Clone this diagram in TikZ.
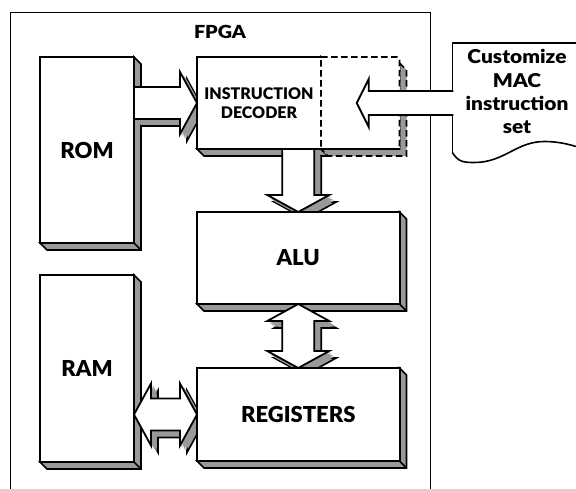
\documentclass[tikz,border=0pt]{standalone}
\usepackage{fontspec}
\newfontfamily\heavy{Lato Black}
\newfontfamily\heavywide{Lato Black}[FakeStretch=1.1]
\usetikzlibrary{calc}
\definecolor{shade}{gray}{0.6}
\pgfdeclarelayer{back}
\pgfdeclarelayer{front}
\pgfsetlayers{back,main,front}

\tikzset{
  block/.style={draw, line width=2pt, fill=white, anchor=north west,
    inner sep=0, outer sep=0, align=center,
    font=\heavy\fontsize{22}{24}\selectfont},
  depthface/.style={fill=shade, draw, line width=1.6pt, line join=miter},
  fat/.style={fill=white, draw, line width=1.8pt, line join=miter,
    preaction={fill=shade, draw, line width=1.6pt, transform canvas={shift={(7pt,-7pt)}}},
    preaction={fill=shade, transform canvas={shift={(5.5pt,-5.5pt)}}},
    preaction={fill=shade, transform canvas={shift={(4pt,-4pt)}}},
    preaction={fill=shade, transform canvas={shift={(2.5pt,-2.5pt)}}},
    preaction={fill=shade, transform canvas={shift={(1pt,-1pt)}}}},
  flat/.style={fill=white, draw, line width=1.8pt, line join=miter},
  slotline/.style={dash pattern=on 6.5pt off 3.5pt, line width=1.8pt},
  noteline/.style={line width=1.6pt}
}

% grey right and bottom faces behind a block
\newcommand\extrude[1]{%
  \filldraw[depthface] (#1.north east) -- ++(7,7) -- ($(#1.south east)+(7,7)$)
    -- ($(#1.south west)+(7,7)$) -- (#1.south west) -- (#1.south east) -- cycle;
  \draw[line width=1.6pt] (#1.south east) -- ++(7,7);}

\begin{document}
\begin{tikzpicture}[x=1pt,y=-1pt]
\useasboundingbox (0,0) rectangle (576,488);

\begin{pgfonlayer}{front}
\node[block, minimum width=94, minimum height=186] (rom) at (40,57) {ROM};
\node[block, minimum width=94, minimum height=187] (ram) at (40,275) {RAM};
\node[block, minimum width=124, minimum height=92,
  font=\heavy\fontsize{16}{19}\selectfont] (dec) at (197,57) {INSTRUCTION\\DECODER};
\node[block, minimum width=202.5, minimum height=92] (alu) at (197,212) {ALU};
\node[block, minimum width=202.5, minimum height=93] (reg) at (197,368) {REGISTERS};

% free room for the custom instructions
\node[anchor=north west, minimum width=78.5, minimum height=92,
  inner sep=0, outer sep=0] (slot) at (dec.north east) {};
\fill[white] ($(slot.north west)+(-1.2,1.2)$) rectangle ($(slot.south east)+(0,-1.2)$);
\draw[slotline] (slot.north west) -- ($(slot.north east)+(-6,0)$)
  .. controls (slot.north east) .. ($(slot.north east)+(0,6)$)
  -- (slot.south east) -- (slot.south west) -- cycle;

\node[font=\heavywide\fontsize{18}{20}\selectfont] (fpga) at (220,32) {FPGA};
\end{pgfonlayer}

\begin{pgfonlayer}{back}
\draw[line width=1pt] (10,12) rectangle (430,500);
\extrude{rom}
\extrude{ram}
\extrude{dec}
\extrude{alu}
\extrude{reg}
\filldraw[depthface, dash pattern=on 6.5pt off 3.5pt] ($(slot.north east)+(0,6)$) -- ++(7,7)
  -- ($(slot.south east)+(7,7)$) -- ($(slot.south west)+(7,7)$)
  -- (slot.south west) -- (slot.south east) -- cycle;
\end{pgfonlayer}

% buses
\coordinate (a1) at (rom.east |- dec.west);
\draw[fat] ($(a1)+(0,-16)$) -- ($(dec.west)+(-17,-16)$) -- ++(0,-15) -- (dec.west)
  -- ($(dec.west)+(-17,31)$) -- ++(0,-15) -- ($(a1)+(0,16)$);
\coordinate (a2) at (alu.north |- dec.south);
\draw[fat] ($(a2)+(-16,0)$) -- ($(alu.north)+(-16,-17)$) -- ++(-15,0) -- (alu.north)
  -- ($(alu.north)+(31,-17)$) -- ++(-15,0) -- ($(a2)+(16,0)$);
\draw[fat] (alu.south) -- ++(31,17) -- ++(-15,0) -- ($(reg.north)+(16,-17)$) -- ++(15,0)
  -- (reg.north) -- ++(-31,-17) -- ++(15,0) -- ($(alu.south)+(-16,17)$) -- ++(-15,0) -- cycle;
\coordinate (a4) at (ram.east |- reg.west);
\draw[fat] (a4) -- ++(17,-31) -- ++(0,15) -- ($(reg.west)+(-17,-16)$) -- ++(0,-15)
  -- (reg.west) -- ++(-17,31) -- ++(0,-15) -- ($(a4)+(17,16)$) -- ++(0,15) -- cycle;

\begin{pgfonlayer}{front}
\node[font=\heavywide\fontsize{19}{23.3}\selectfont, align=center, minimum width=129,
  minimum height=97, inner sep=0] (note) at (517,91.8) {Customize\\MAC\\instruction\\set};
\draw[noteline] ($(note.south west)+(0,12)$) -- (note.north west) -- ++(150,0);
\draw[noteline] ($(note.south west)+(0,12)$) .. controls +(6,9) and +(-12,0) .. ++(22,10)
  .. controls +(30,0) and +(-28,0) .. ++(70,-21)
  .. controls +(20,0) and +(-15,-5) .. ++(50,11);
\coordinate (tip) at ($(slot.center)+(-3.5,0)$);
\draw[flat] ($(note.west |- tip)+(1,-12)$) -- ($(tip)+(12,-12)$) -- ++(0,-12) -- (tip)
  -- ++(12,24) -- ++(0,-12) -- ($(note.west |- tip)+(1,12)$);
\end{pgfonlayer}
\end{tikzpicture}
\end{document}
